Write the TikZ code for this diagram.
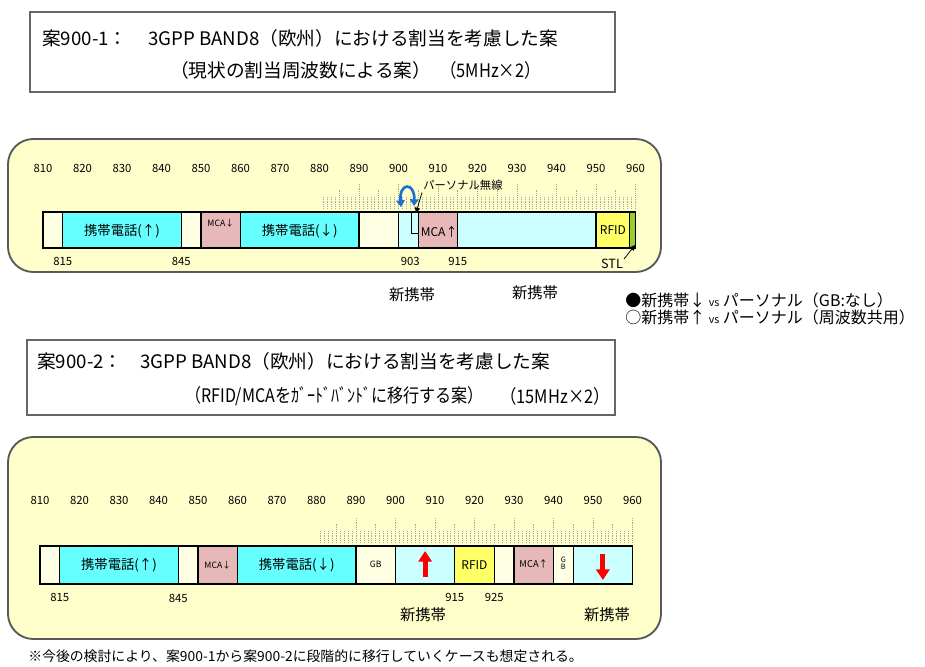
\documentclass[tikz,border=0pt]{standalone}
\usepackage{fontspec}
\setmainfont{Noto Sans CJK JP}
\usetikzlibrary{arrows.meta}
\definecolor{panelbg}{HTML}{FFFFCC}
\definecolor{cream}{HTML}{FFFFE4}
\definecolor{cyanb}{HTML}{66FFFF}
\definecolor{lcyan}{HTML}{CCFFFF}
\definecolor{mcapink}{HTML}{E6B8B8}
\definecolor{rfidy}{HTML}{FFFF66}
\definecolor{stlg}{HTML}{99CC33}
\definecolor{arcblue}{HTML}{1F6FD0}
\begin{document}
\begin{tikzpicture}[x=0.75pt,y=-0.75pt,
  titlebox/.style={draw=black!60, line width=0.9pt},
  panel/.style={draw=black!65, line width=1.4pt, fill=panelbg, rounded corners=19pt},
  blk/.style={draw=black, line width=0.9pt},
  tickln/.style={draw=black!35, line width=0.45pt, dash pattern=on 0.7pt off 0.7pt},
  freq/.style={font=\fontsize{8.5}{9}\selectfont, inner sep=0pt},
  ttl/.style={font=\fontsize{14}{16}\selectfont, inner sep=0pt, anchor=west},
  bandlbl/.style={font=\fontsize{10}{12}\selectfont, inner sep=0pt},
  small/.style={font=\fontsize{6.5}{7}\selectfont, inner sep=0pt},
  mid/.style={font=\fontsize{9}{10}\selectfont, inner sep=0pt},
  newlbl/.style={font=\fontsize{11.5}{12}\selectfont, inner sep=0pt},
  legend/.style={font=\fontsize{12}{13}\selectfont, inner sep=0pt, anchor=west},
  thinarrow/.style={draw=black, line width=0.6pt, -{Triangle[width=4pt,length=4pt]}},
  redarrow/.style={draw=red, line width=3.8pt, -{Triangle[width=10pt,length=8pt]}},
  bluearc/.style={draw=arcblue, line width=2pt, {Triangle[width=6.5pt,length=5pt]}-{Triangle[width=6.5pt,length=5pt]}}
]
\useasboundingbox (0,0) rectangle (925,667);
\fill[white] (0,0) rectangle (925,667);

% ---------- Title 1 ----------
\draw[titlebox] (30,12) rectangle (615,92);
\node[ttl] (t1a) at (42,38) {案900-1：};
\node[ttl] (t1b) at (148,38) {3GPP BAND8（欧州）における割当を考慮した案};
\node[ttl] (t1c) at (170,70) {（現状の割当周波数による案）};
\node[ttl] (t1d) at (440,70) {\scalebox{0.88}[1]{（5MHz×2）}};

% ---------- Panel 1 ----------
\draw[panel] (8,139) rectangle (661,272);
\begin{scope}[xshift=-2367.375pt, x=2.9625pt]
  \foreach \f in {881,...,960}{
    \pgfmathsetmacro\len{mod(\f,10)==0 ? 26 : (mod(\f,5)==0 ? 19 : 12)}
    \draw[tickln] (\f,209) -- (\f,209-\len);
  }
  \foreach \f in {810,820,...,960}{
    \node[freq] (p1f\f) at (\f,168) {\f};
  }
  \foreach \a/\b/\c in {810/815/cream, 815/845/cyanb, 845/850/cream, 850/860/mcapink,
      860/890/cyanb, 890/900/cream, 900/905/lcyan, 905/915/mcapink, 915/950/lcyan,
      950/958.5/rfidy, 958.5/960/stlg}{
    \draw[blk, fill=\c] (\a,212) rectangle (\b,248);
  }
  \node[bandlbl] (p1up) at (830,231) {携帯電話(↑)};
  \node[small] (p1mcad) at (855,223) {MCA↓};
  \node[bandlbl] (p1dn) at (875,231) {携帯電話(↓)};
  \node[mid] (p1mcau) at (910.3,232) {MCA↑};
  \node[mid] (p1rfid) at (954.3,230) {RFID};
  \node[freq] (p1l815) at (815,261) {815};
  \node[freq] (p1l845) at (845,261) {845};
  \node[freq] (p1l903) at (903,261) {903};
  \node[freq] (p1l915) at (915,261) {915};
\end{scope}
% personal radio marker
\coordinate (prA) at (411,212);
\coordinate (prB) at (411,233);
\coordinate (prC) at (418,233);
\draw[black, line width=0.7pt] (prA) -- (prB) -- (prC);
\coordinate (arcL) at (401,207);
\coordinate (arcR) at (414,206);
\draw[bluearc] (arcL) .. controls (399,182) and (415,182) .. (arcR);
\node[font=\fontsize{8.5}{9}\selectfont, inner sep=0pt, anchor=west] (pers) at (423,185) {パーソナル無線};
\coordinate (persTip) at (416,213);
\draw[thinarrow] (pers.south west) ++(-1,2) -- (persTip);
\node[font=\fontsize{9.5}{10}\selectfont, inner sep=0pt] (stl) at (612,264) {STL};
\coordinate (stlTip) at (635,245);
\draw[thinarrow] (stl.north east) ++(1,0) -- (stlTip);
\node[newlbl] (new1a) at (412,295) {新携帯};
\node[newlbl] (new1b) at (535,293) {新携帯};

% ---------- Legend ----------
\node[legend] (leg1) at (625,300) {●新携帯↓ {\fontsize{8}{8}\selectfont vs} パーソナル（GB:なし）};
\node[legend] (leg2) at (625,317) {○新携帯↑ {\fontsize{8}{8}\selectfont vs} パーソナル（周波数共用）};

% ---------- Title 2 ----------
\draw[titlebox] (27,340) rectangle (615,415);
\node[ttl] (t2a) at (37,361) {案900-2：};
\node[ttl] (t2b) at (140,361) {3GPP BAND8（欧州）における割当を考慮した案};
\node[ttl] (t2c) at (185,396) {\scalebox{0.86}[1]{（RFID/MCAをｶﾞｰﾄﾞﾊﾞﾝﾄﾞに移行する案）}};
\node[ttl] (t2d) at (500,396) {\scalebox{0.88}[1]{（15MHz×2）}};

% ---------- Panel 2 ----------
\draw[panel] (8,437) rectangle (661,639);
\begin{scope}[xshift=-2369.625pt, x=2.9625pt]
  \foreach \f in {881,...,960}{
    \pgfmathsetmacro\len{mod(\f,10)==0 ? 26 : (mod(\f,5)==0 ? 19 : 12)}
    \draw[tickln] (\f,543) -- (\f,543-\len);
  }
  \foreach \f in {810,820,...,960}{
    \node[freq] (p2f\f) at (\f,500) {\f};
  }
  \foreach \a/\b/\c in {810/815/cream, 815/845/cyanb, 845/850/cream, 850/860/mcapink,
      860/890/cyanb, 890/900/cream, 900/915/lcyan, 915/925/rfidy, 925/930/cream,
      930/940/mcapink, 940/945/cream, 945/960/lcyan}{
    \draw[blk, fill=\c] (\a,546) rectangle (\b,584);
  }
  \node[bandlbl] (p2up) at (830,565) {携帯電話(↑)};
  \node[small] (p2mcad) at (855,565) {MCA↓};
  \node[bandlbl] (p2dn) at (875,565) {携帯電話(↓)};
  \node[small] (p2gb) at (895,564) {GB};
  \node[mid] (p2rfid) at (920,565) {RFID};
  \node[font=\fontsize{7}{8}\selectfont, inner sep=0pt] (p2mcau) at (935,564) {MCA↑};
  \node[font=\fontsize{5.5}{5.5}\selectfont, inner sep=0pt, align=center] (p2gbv) at (942.5,563) {G\\B};
  \coordinate (upS) at (907.5,577);
  \coordinate (upE) at (907.5,551);
  \draw[redarrow] (upS) -- (upE);
  \coordinate (dnS) at (952.5,554);
  \coordinate (dnE) at (952.5,580);
  \draw[redarrow] (dnS) -- (dnE);
  \node[freq] (p2l815) at (815,597) {815};
  \node[freq] (p2l845) at (845,598) {845};
  \node[freq] (p2l915) at (915,597) {915};
  \node[freq] (p2l925) at (925,597) {925};
\end{scope}
\node[newlbl] (new2a) at (423,615) {新携帯};
\node[newlbl] (new2b) at (607,615) {新携帯};

% ---------- Footnote ----------
\node[font=\fontsize{10.4}{12}\selectfont, inner sep=0pt, anchor=west] (foot) at (28,656)
  {※今後の検討により、案900-1から案900-2に段階的に移行していくケースも想定される。};
\end{tikzpicture}
\end{document}
